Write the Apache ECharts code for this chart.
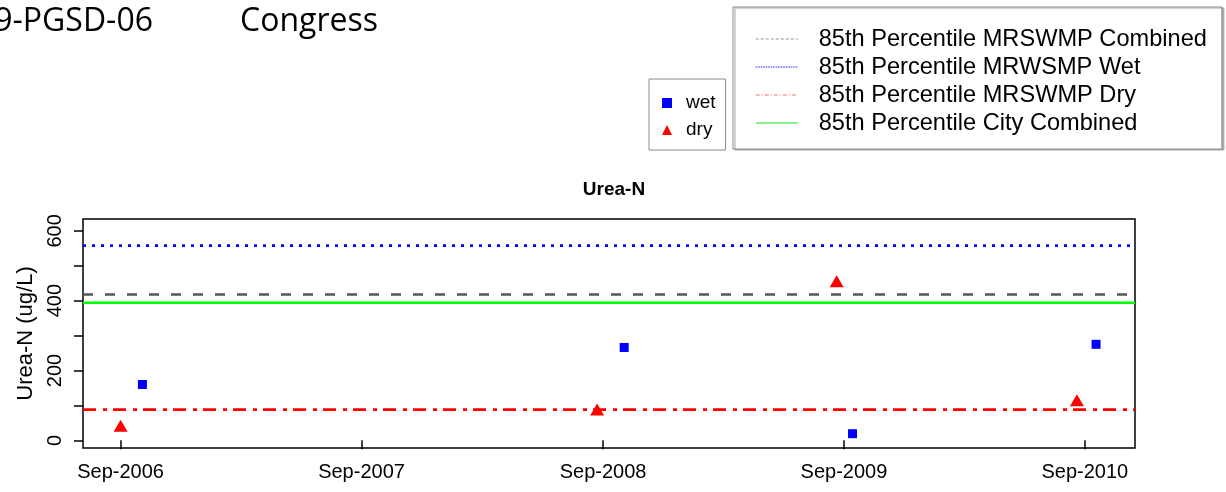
<!DOCTYPE html>
<html>
<head>
<meta charset="utf-8">
<script src="https://cdn.jsdelivr.net/npm/echarts@6/dist/echarts.min.js"></script>
<style>html,body{margin:0;padding:0;background:#fff}#c{width:1226px;height:492px}</style>
</head>
<body>
<div id="c"></div>
<script>
// ---- data ----
var wetDates = ['2006-10-04', '2008-10-03', '2009-09-14', '2010-09-18'];
var wetValues = [160, 266, 19, 275];
var dryDates = ['2006-09-01', '2008-08-23', '2009-08-21', '2010-08-20'];
var dryValues = [42, 88, 456, 115];

var refNames = ['85th Percentile MRSWMP Combined', '85th Percentile MRWSMP Wet', '85th Percentile MRSWMP Dry', '85th Percentile City Combined'];
var refValues = [418, 558, 88, 394];

var xTickDates = ['2006-09-01', '2007-09-01', '2008-09-01', '2009-09-01', '2010-09-01'];
var xTickLabels = ['Sep-2006', 'Sep-2007', 'Sep-2008', 'Sep-2009', 'Sep-2010'];
var yTicks = [0, 100, 200, 300, 400, 500, 600];
var yTickLabels = [0, 200, 400, 600];

var xRange = ['2006-07-06', '2010-11-16'];
var yRange = [-22, 634];

function ts(s) { var p = s.split('-'); return Date.UTC(+p[0], +p[1] - 1, +p[2]); }

var xMin = ts(xRange[0]), xMax = ts(xRange[1]);
var tickTs = xTickDates.map(ts);
var labelMap = {};
tickTs.forEach(function (t, i) { labelMap[t] = xTickLabels[i]; });

var refStyles = [
  { color: '#555555', type: [10, 12], width: 2.5 },
  { color: '#0000ff', type: [3, 6], width: 2.8 },
  { color: '#ff0000', type: [13, 7, 4, 6], width: 2.8 },
  { color: '#00ff00', type: 'solid', width: 2.5 }
];
var refLegendStyles = [
  { color: '#b8b8b8', type: [3, 2], width: 1.5 },
  { color: '#6a6aff', type: [1.5, 1], width: 1.5 },
  { color: '#ff9a9a', type: [4, 2, 1, 2], width: 1.5 },
  { color: '#66ee66', type: 'solid', width: 1.5 }
];

var series = [];
refNames.forEach(function (n, i) {
  series.push({
    name: n, type: 'line', symbol: 'none', silent: true, z: 1,
    lineStyle: refStyles[i],
    itemStyle: { color: refStyles[i].color },
    data: [[xMin, refValues[i]], [xMax, refValues[i]]]
  });
});
series.push({
  name: 'wet', type: 'scatter', symbol: 'rect', symbolSize: 9, z: 3,
  itemStyle: { color: '#0000ff', opacity: 1 },
  data: wetDates.map(function (d, i) { return [ts(d), wetValues[i]]; })
});
series.push({
  name: 'dry', type: 'scatter', symbol: 'triangle', symbolSize: [14, 12], z: 3,
  itemStyle: { color: '#ff0000', opacity: 1 },
  data: dryDates.map(function (d, i) { return [ts(d), dryValues[i]]; })
});

var chart = echarts.init(document.getElementById('c'), null, { renderer: 'canvas' });
chart.setOption({
  animation: false,
  backgroundColor: '#ffffff',
  textStyle: { fontFamily: 'Liberation Sans, Arial, sans-serif' },
  title: {
    text: 'Urea-N', left: 609, top: 175, textAlign: 'center',
    textStyle: { fontSize: 19, fontWeight: 'bold', color: '#000', fontFamily: 'Liberation Sans' }
  },
  graphic: [
    { type: 'text', x: 153, y: 22, style: { text: '9-PGSD-06', font: '32px "Open Sans"', fill: '#000', textAlign: 'right', textVerticalAlign: 'middle' } },
    { type: 'text', x: 240, y: 22, style: { text: 'Congress', font: '32px "Open Sans"', fill: '#000', textAlign: 'left', textVerticalAlign: 'middle' } }
  ],
  legend: [
    {
      data: [
        { name: 'wet', icon: 'rect', itemStyle: { color: '#0000ff', opacity: 1 } },
        { name: 'dry', icon: 'triangle', itemStyle: { color: '#ff0000', opacity: 1 } }
      ],
      orient: 'vertical', left: 649, top: 79,
      itemWidth: 10, itemHeight: 10, itemGap: 7,
      padding: [14, 10, 10, 13],
      borderColor: '#8a8a8a', borderWidth: 1, backgroundColor: '#fff',
      textStyle: { fontSize: 19, color: '#000', lineHeight: 20, padding: [0, 0, 0, 9], fontFamily: 'Liberation Sans' },
      selectedMode: false
    },
    {
      data: refNames.map(function (n, i) { return { name: n, lineStyle: refLegendStyles[i], itemStyle: { opacity: 0 } }; }),
      orient: 'vertical', left: 733, top: 7,
      itemWidth: 42, itemHeight: 14, itemGap: 4,
      padding: [20, 15, 14, 22],
      borderColor: '#8a8a8a', borderWidth: 1, backgroundColor: '#fff',
      shadowColor: '#a8a8a8', shadowOffsetX: 2, shadowOffsetY: 1, shadowBlur: 0,
      textStyle: { fontSize: 23.6, color: '#000', lineHeight: 24, padding: [0, 0, 0, 16], fontFamily: 'Liberation Sans' },
      selectedMode: false
    }
  ],
  grid: {
    left: 83, right: 91, top: 219, bottom: 44,
    show: true, borderColor: '#000', borderWidth: 1.5, backgroundColor: 'transparent'
  },
  xAxis: {
    type: 'value', min: xMin, max: xMax,
    splitLine: { show: false },
    axisLine: { show: false },
    axisTick: { show: true, customValues: tickTs, length: 9, inside: false, lineStyle: { color: '#000', width: 1.5 } },
    axisLabel: {
      customValues: tickTs, margin: 14, fontSize: 20, color: '#000', fontFamily: 'Liberation Sans',
      formatter: function (v) { return labelMap[v] || ''; }
    }
  },
  yAxis: {
    type: 'value', min: yRange[0], max: yRange[1],
    name: 'Urea-N (ug/L)', nameLocation: 'middle', nameGap: 46, nameRotate: 90,
    nameTextStyle: { fontSize: 22, color: '#000', fontFamily: 'Liberation Sans' },
    splitLine: { show: false },
    axisLine: { show: false },
    axisTick: { show: true, customValues: yTicks, length: 9, inside: false, lineStyle: { color: '#000', width: 1.5 } },
    axisLabel: {
      customValues: yTickLabels, rotate: 90, margin: 18, fontSize: 20, color: '#000', fontFamily: 'Liberation Sans'
    }
  },
  series: series
});
</script>
</body>
</html>
